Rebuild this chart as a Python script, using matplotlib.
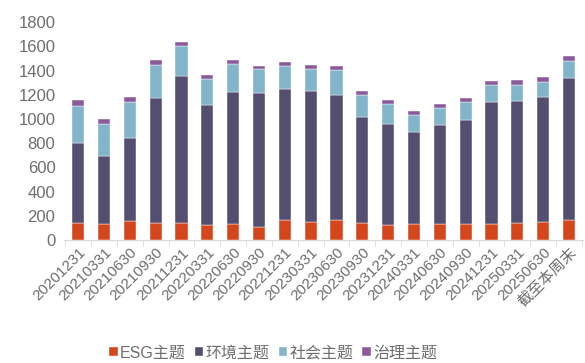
import numpy as np
import matplotlib
matplotlib.use("Agg")
import matplotlib.pyplot as plt
from matplotlib.ticker import FixedLocator

plt.rcParams['font.family'] = ['Liberation Sans', 'Noto Sans CJK SC', 'DejaVu Sans']

dates = ['20201231', '20210331', '20210630', '20210930', '20211231', '20220331',
         '20220630', '20220930', '20221231', '20230331', '20230630', '20230930',
         '20231231', '20240331', '20240630', '20240930', '20241231', '20250331',
         '20250630', '截至本周末']
esg = [140, 130, 155, 136, 136, 122, 130, 111, 166, 150, 166, 144, 122, 130, 130, 130, 130, 144, 150, 163]
env = [660, 560, 690, 1036, 1216, 997, 1094, 1105, 1083, 1080, 1036, 873, 836, 765, 823, 862, 1014, 1008, 1033, 1175]
social = [310, 270, 296, 277, 250, 208, 228, 194, 189, 185, 200, 180, 169, 141, 138, 149, 136, 128, 124, 141]
gov = [45, 40, 38, 36, 36, 37, 33, 31, 31, 32, 36, 34, 32, 31, 34, 34, 34, 38, 37, 40]

names = ['ESG主题', '环境主题', '社会主题', '治理主题']
colors = ['#D4461C', '#544F70', '#82B4CA', '#8B5A9C']

fig = plt.figure(figsize=(5.85, 3.63), dpi=100)
ax = fig.add_axes([0.109, 0.339, 0.888, 0.6])

x = np.arange(len(dates))
bottom = np.zeros(len(dates))
for vals, name, c in zip([esg, env, social, gov], names, colors):
    ax.bar(x, vals, 0.47, bottom=bottom, color=c, label=name,
           edgecolor='white', linewidth=0.3)
    bottom += np.array(vals)

ax.set_xlim(-0.56, len(dates) - 0.45)
ax.set_ylim(0, 1800)
ax.set_yticks(range(0, 1801, 200))
ax.set_xticks(x)
ax.set_xticklabels(dates, rotation=45, ha='right', rotation_mode='anchor')
ax.xaxis.set_minor_locator(FixedLocator(np.arange(-0.5, len(dates), 1.0)))
ax.tick_params(axis='x', which='major', length=0, pad=4, labelsize=11, colors='#6E6E6E')
ax.tick_params(axis='x', which='minor', length=4, color='#D9D9D9', direction='out')
ax.tick_params(axis='y', length=0, labelsize=12, colors='#6E6E6E', pad=6)
for s in ['top', 'right', 'left']:
    ax.spines[s].set_visible(False)
ax.spines['bottom'].set_color('#D9D9D9')

fig.legend(loc='center', bbox_to_anchor=(0.467, 0.028), ncol=4, frameon=False,
           fontsize=11.5, handlelength=0.55, handleheight=0.55, handletextpad=0.15,
           columnspacing=0.55, labelcolor='#6E6E6E')

fig.savefig('out.png', dpi=100)
